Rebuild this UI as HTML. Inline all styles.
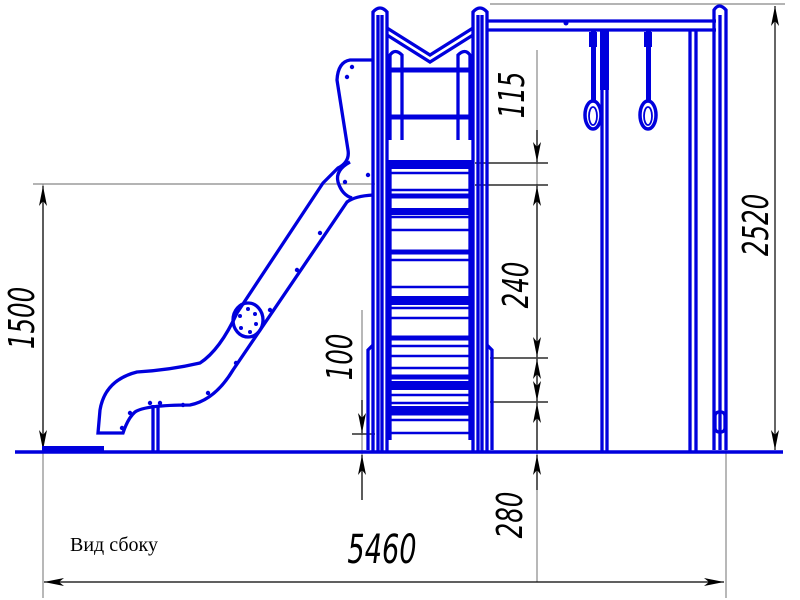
<!DOCTYPE html>
<html><head><meta charset="utf-8"><style>
html,body{margin:0;padding:0;background:#fff;width:800px;height:600px;overflow:hidden}
svg{display:block}
.d{font-family:"DejaVu Sans","Liberation Sans",sans-serif;font-style:italic;font-size:36px;fill:#000}
</style></head><body>
<svg width="800" height="600" viewBox="0 0 800 600" xmlns="http://www.w3.org/2000/svg">
<defs>
<marker id="a" viewBox="0 0 20 8" refX="20" refY="4" markerWidth="20" markerHeight="8" markerUnits="userSpaceOnUse" orient="auto-start-reverse"><path d="M0,0 L20,4 L0,8 L5,4 z" fill="#000"/></marker>
</defs>
<g stroke="#888" stroke-width="1.2" fill="none">
<line x1="33" y1="184" x2="375" y2="184"/>
<line x1="43" y1="184" x2="43" y2="598"/>
<line x1="490" y1="4" x2="785" y2="4"/>
<line x1="726" y1="430" x2="726" y2="598"/>
<line x1="537" y1="50" x2="537" y2="582"/>
<line x1="362" y1="310" x2="362" y2="500"/>
</g>
<g stroke="#000" stroke-width="1.2" fill="none">
<line x1="475" y1="163" x2="548" y2="163"/>
<line x1="475" y1="185" x2="548" y2="185"/>
<line x1="490" y1="358" x2="548" y2="358"/>
<line x1="490" y1="402" x2="548" y2="402"/>
<line x1="352" y1="434" x2="375" y2="434"/>
<line x1="43" y1="186" x2="43" y2="450" marker-start="url(#a)" marker-end="url(#a)"/>
<line x1="775" y1="6" x2="775" y2="450" marker-start="url(#a)" marker-end="url(#a)"/>
<line x1="44" y1="582" x2="724" y2="582" marker-start="url(#a)" marker-end="url(#a)"/>
<line x1="537" y1="130" x2="537" y2="162" marker-end="url(#a)"/>
<line x1="537" y1="186" x2="537" y2="357" marker-start="url(#a)" marker-end="url(#a)"/>
<line x1="537" y1="359" x2="537" y2="401" marker-start="url(#a)" marker-end="url(#a)"/>
<line x1="537" y1="455" x2="537" y2="490" marker-start="url(#a)"/>
<line x1="537" y1="403" x2="537" y2="450" marker-start="url(#a)"/>
<line x1="362" y1="400" x2="362" y2="433" marker-end="url(#a)"/>
<line x1="362" y1="455" x2="362" y2="500" marker-start="url(#a)"/>
</g>
<g class="d">
<text transform="translate(34,318) rotate(-90) scale(0.68,1)" text-anchor="middle">1500</text>
<text transform="translate(352,357) rotate(-90) scale(0.68,1)" text-anchor="middle">100</text>
<text transform="translate(524,95) rotate(-90) scale(0.68,1)" text-anchor="middle">115</text>
<text transform="translate(528,285) rotate(-90) scale(0.68,1)" text-anchor="middle">240</text>
<text transform="translate(768,225) rotate(-90) scale(0.68,1)" text-anchor="middle">2520</text>
<text transform="translate(522,515) rotate(-90) scale(0.68,1)" text-anchor="middle">280</text>
<text transform="translate(382,563) scale(0.68,1)" text-anchor="middle" style="font-size:40px">5460</text>
</g>
<text x="70" y="551" style="font-family:'Liberation Serif',serif;font-size:20px">Вид сбоку</text>

<line x1="15" y1="452" x2="783" y2="452" stroke="#0000dd" stroke-width="3.5"/>
<rect x="42" y="446" width="62" height="6" fill="#0000dd"/>

<g stroke="#0000dd" fill="none" stroke-width="3.3">
<path d="M373,60 L350,60 Q338,62 337,80 L348,150 Q350,162 338,168 L323,183 L237,313 Q220,350 200,363 Q170,370 137,372 Q105,380 100,410 L98,433 L123,433 Q128,418 135,412 Q145,405 190,405 Q215,400 233,370 L347,202 Q355,196 373,195"/>
<path d="M350,162 Q335,170 338,182 Q342,195 352,198"/>
<ellipse cx="248" cy="320" rx="15" ry="17"/>
<line x1="153" y1="405" x2="153" y2="452"/><line x1="158" y1="405" x2="158" y2="452"/>
</g>
<g fill="#0000dd">
<circle cx="352" cy="67" r="2.2"/><circle cx="347" cy="77" r="2.2"/><circle cx="368" cy="175" r="2.2"/><circle cx="345" cy="182" r="2.2"/>
<circle cx="320" cy="233" r="2.2"/><circle cx="297" cy="270" r="2.2"/><circle cx="270" cy="310" r="2.2"/><circle cx="236" cy="363" r="2.2"/><circle cx="208" cy="393" r="2.2"/>
<circle cx="183" cy="405" r="2.2"/><circle cx="150" cy="403" r="2.2"/><circle cx="160" cy="403" r="2.2"/><circle cx="130" cy="413" r="2.2"/><circle cx="122" cy="428" r="2.2"/>
<circle cx="248" cy="309" r="2"/><circle cx="255" cy="314" r="2"/><circle cx="256" cy="324" r="2"/><circle cx="250" cy="332" r="2"/><circle cx="241" cy="328" r="2"/><circle cx="240" cy="316" r="2"/>
</g>

<g stroke="#0000dd" fill="none">
<g stroke-width="3.3">
<path d="M373,452 L373,12 Q380,4 387,12 L387,452"/>
<path d="M473,452 L473,12 Q480,4 487,12 L487,452"/>
<line x1="378" y1="15" x2="378" y2="452"/><line x1="382" y1="15" x2="382" y2="452"/>
<line x1="478" y1="15" x2="478" y2="452"/><line x1="482" y1="15" x2="482" y2="452"/>
<path d="M387,28 L430,55 L473,28"/><path d="M387,35 L430,62 L473,35"/>
<path d="M390,140 L390,55 Q395,48 402,55 L402,140"/>
<path d="M470,140 L470,55 Q465,48 458,55 L458,140"/>
<line x1="390" y1="160" x2="390" y2="440"/><line x1="470" y1="160" x2="470" y2="440"/>
<path d="M373,345 L368,350 L368,450"/><path d="M487,345 L492,350 L492,450"/>
</g>
<g stroke-width="5">
<line x1="390" y1="70" x2="470" y2="70"/><line x1="390" y1="117" x2="470" y2="117"/>
<line x1="390" y1="196" x2="470" y2="196"/>
<line x1="390" y1="252" x2="470" y2="252"/>
<line x1="390" y1="338" x2="470" y2="338"/>
<line x1="390" y1="377" x2="470" y2="377"/>
<line x1="390" y1="413" x2="470" y2="413"/>
</g>
<g stroke-width="2.6">
<line x1="390" y1="173" x2="470" y2="173"/><line x1="390" y1="190" x2="470" y2="190"/>
<line x1="390" y1="217" x2="470" y2="217"/><line x1="390" y1="230" x2="470" y2="230"/>
<line x1="390" y1="260" x2="470" y2="260"/><line x1="390" y1="287" x2="470" y2="287"/>
<line x1="390" y1="308" x2="470" y2="308"/><line x1="390" y1="318" x2="470" y2="318"/>
<line x1="390" y1="346" x2="470" y2="346"/><line x1="390" y1="356" x2="470" y2="356"/>
<line x1="390" y1="368" x2="470" y2="368"/><line x1="390" y1="395" x2="470" y2="395"/>
<line x1="390" y1="403" x2="470" y2="403"/><line x1="390" y1="420" x2="470" y2="420"/>
<line x1="390" y1="433" x2="470" y2="433"/>
</g>
</g>
<g fill="#0000dd">
<rect x="390" y="160" width="80" height="9"/>
<rect x="390" y="208" width="80" height="7"/>
<rect x="390" y="296" width="80" height="9"/>
<rect x="390" y="381" width="80" height="9"/>
<rect x="390" y="406" width="80" height="5"/>
</g>

<g stroke="#0000dd" fill="none" stroke-width="3.3">
<line x1="487" y1="21" x2="716" y2="21"/><line x1="487" y1="30" x2="716" y2="30"/>
<path d="M714,450 L714,10 Q719,2 726,10 L726,450"/>
<line x1="720" y1="15" x2="720" y2="450"/>
<rect x="715" y="412" width="10" height="20" rx="4"/>
<line x1="602" y1="30" x2="602" y2="452"/><line x1="607" y1="30" x2="607" y2="452"/>
<line x1="690" y1="30" x2="690" y2="452"/><line x1="696" y1="30" x2="696" y2="452"/>
<ellipse cx="593" cy="115" rx="8" ry="14" stroke-width="3.5"/>
<ellipse cx="593" cy="116" rx="4" ry="9" stroke-width="1.8"/>
<ellipse cx="648" cy="115" rx="8" ry="14" stroke-width="3.5"/>
<ellipse cx="648" cy="116" rx="4" ry="9" stroke-width="1.8"/>
</g>
<g fill="#0000dd">
<rect x="591" y="30" width="5" height="72"/><rect x="589" y="32" width="8" height="15"/>
<rect x="646" y="30" width="5" height="72"/><rect x="644" y="32" width="8" height="15"/>
<rect x="600" y="30" width="9" height="60"/>
<circle cx="566" cy="23" r="2.5"/>
</g>
</svg>
</body></html>
